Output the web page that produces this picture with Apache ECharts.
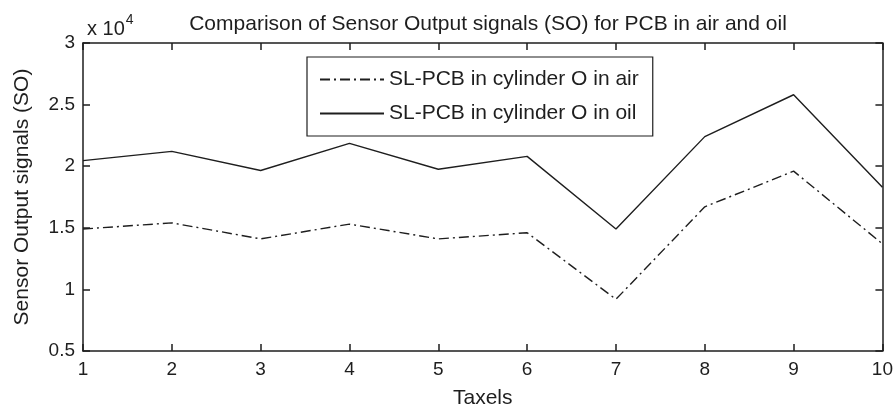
<!DOCTYPE html>
<html>
<head>
<meta charset="utf-8">
<title>Sensor Output signals</title>
<script src="https://cdn.jsdelivr.net/npm/echarts@6/dist/echarts.min.js"></script>
<style>
  html, body { margin: 0; padding: 0; background: #fff; }
  #chart { width: 896px; height: 414px; }
</style>
</head>
<body>
<div id="chart"></div>
<script>
// taxel numbers along the x axis
const taxels = [1, 2, 3, 4, 5, 6, 7, 8, 9, 10]
// sensor output (raw counts, axis shows x 10^4)
const soAir = [14900, 15400, 14100, 15300, 14100, 14600, 9200, 16700, 19600, 13700]
const soOil = [20450, 21200, 19650, 21850, 19750, 20800, 14900, 22400, 25800, 18300]
const yTicks = [0.5, 1, 1.5, 2, 2.5, 3]

const seriesNames = ['SL-PCB in cylinder O in air', 'SL-PCB in cylinder O in oil']

const font = 'Liberation Sans, Arial, sans-serif'
const ink = '#1e1e1e'

const pairs = (vals) => taxels.map((t, i) => [t, vals[i]])

const chart = echarts.init(document.getElementById('chart'))

const boxAxis = {
  axisLine: { show: true, lineStyle: { color: ink, width: 1.5 } },
  axisTick: { show: true, inside: true, length: 7, lineStyle: { color: ink, width: 1.5 } },
  splitLine: { show: false }
}

const option = {
  backgroundColor: '#fff',
  animation: false,
  title: [
    {
      text: 'Comparison of Sensor Output signals (SO) for PCB in air and oil',
      left: 483,
      textAlign: 'center',
      top: 9,
      textStyle: { fontFamily: font, fontSize: 21, fontWeight: 'normal', color: ink }
    },
    {
      // MATLAB style exponent above the y axis
      text: 'x 10{sup|4}',
      left: 82,
      top: 8,
      textStyle: {
        fontFamily: font, fontSize: 20, fontWeight: 'normal', color: ink,
        rich: { sup: { fontFamily: font, fontSize: 14, color: ink, verticalAlign: 'top', padding: [0, 0, 18, 1] } }
      }
    }
  ],
  legend: {
    orient: 'vertical',
    left: 307,
    top: 57,
    data: seriesNames,
    itemWidth: 64,
    itemHeight: 14,
    itemGap: 13,
    padding: [12, 14, 12, 12],
    borderColor: ink,
    borderWidth: 1.2,
    backgroundColor: '#fff',
    itemStyle: { opacity: 0 },
    textStyle: { fontFamily: font, fontSize: 21, color: ink }
  },
  grid: { left: 83, right: 13, top: 43, bottom: 59, containLabel: false },
  xAxis: [
    {
      type: 'value', min: 1, max: 10, interval: 1,
      name: 'Taxels', nameLocation: 'middle', nameGap: 37,
      nameTextStyle: { fontFamily: font, fontSize: 21, color: ink },
      axisLabel: { fontFamily: font, fontSize: 19, color: ink, margin: 9 },
      ...boxAxis
    },
    {
      type: 'value', min: 1, max: 10, interval: 1, position: 'top',
      axisLabel: { show: false },
      ...boxAxis
    }
  ],
  yAxis: [
    {
      type: 'value', min: 5000, max: 30000, interval: 5000,
      name: 'Sensor Output signals (SO)', nameLocation: 'middle', nameGap: 50,
      nameTextStyle: { fontFamily: font, fontSize: 21, color: ink },
      axisLabel: {
        fontFamily: font, fontSize: 19, color: ink, margin: 8,
        formatter: (v) => String(yTicks.find(t => Math.abs(t * 1e4 - v) < 1) ?? v / 1e4)
      },
      ...boxAxis
    },
    {
      type: 'value', min: 5000, max: 30000, interval: 5000, position: 'right',
      axisLabel: { show: false },
      ...boxAxis
    }
  ],
  series: [
    {
      name: seriesNames[0],
      type: 'line',
      data: pairs(soAir),
      symbol: 'none',
      lineStyle: { color: ink, width: 1.4, type: [10, 4, 2, 4] },
      itemStyle: { color: ink }
    },
    {
      name: seriesNames[1],
      type: 'line',
      data: pairs(soOil),
      symbol: 'none',
      lineStyle: { color: ink, width: 1.4, type: 'solid' },
      itemStyle: { color: ink }
    }
  ]
}

chart.setOption(option)
</script>
</body>
</html>
